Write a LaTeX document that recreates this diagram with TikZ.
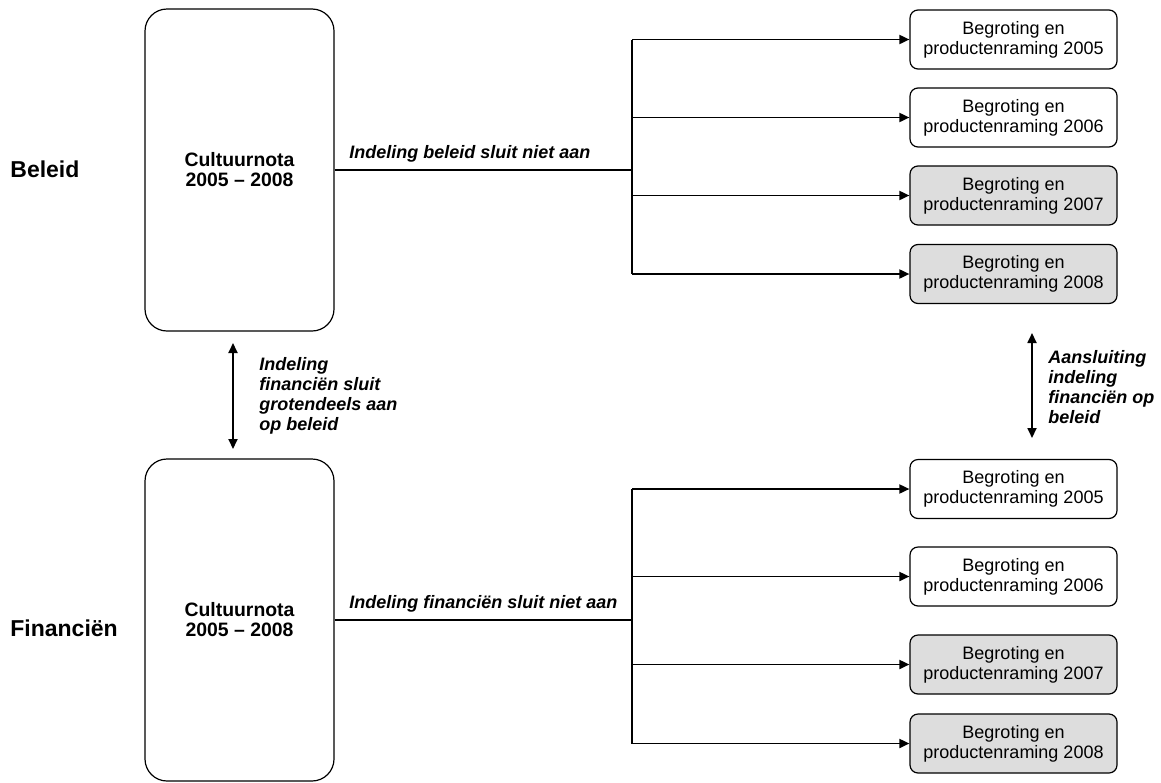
\documentclass[tikz,border=0pt]{standalone}
\usepackage{fontspec}
\setmainfont{Liberation Sans}
\usepackage{tikz}
\usetikzlibrary{arrows.meta,calc}
\definecolor{boxgrey}{HTML}{DDDDDD}
\tikzset{bigbox/.style={draw,line width=0.6pt,rounded corners=11pt,minimum width=94.5pt,minimum height=161pt,align=center,font=\bfseries\fontsize{9.7}{10}\selectfont}}
\tikzset{planbox/.style={draw,line width=0.6pt,rounded corners=4pt,minimum width=103.5pt,minimum height=29.5pt,inner sep=0pt,align=center,font=\fontsize{9}{10}\selectfont}}
\tikzset{greybox/.style={planbox,fill=boxgrey}}
\tikzset{conn/.style={line width=0.9pt}}
\tikzset{arr/.style={conn,-{Triangle[length=5pt,width=4.5pt]}}}
\tikzset{note/.style={inner sep=0pt,align=left,font=\bfseries\itshape\fontsize{9}{10}\selectfont}}
\tikzset{side/.style={inner sep=0pt,anchor=west,font=\bfseries\fontsize{11.5}{12}\selectfont}}

\begin{document}
\begin{tikzpicture}
[x=0.5pt, y=-0.5pt]
\useasboundingbox (0,0) rectangle (1161,782);

\node (beleid) at (10,169)[side]{Beleid};
\node (financien) at (10,628)[side]{Financiën};

\node (cultb) at (239.5,170)[bigbox]{Cultuurnota\\2005 -- 2008};
\node (cultf) at (239.5,620)[bigbox]{Cultuurnota\\2005 -- 2008};

% beleid
\node (b1) at (1013.5,39.5)[planbox]{Begroting en\\productenraming 2005};
\node (b2) at (1013.5,117.5)[planbox]{Begroting en\\productenraming 2006};
\node (b3) at (1013.5,195.5)[greybox]{Begroting en\\productenraming 2007};
\node (b4) at (1013.5,274)[greybox]{Begroting en\\productenraming 2008};

% financien
\node (f1) at (1013.5,489)[planbox]{Begroting en\\productenraming 2005};
\node (f2) at (1013.5,576.5)[planbox]{Begroting en\\productenraming 2006};
\node (f3) at (1013.5,664.5)[greybox]{Begroting en\\productenraming 2007};
\node (f4) at (1013.5,743.5)[greybox]{Begroting en\\productenraming 2008};

\coordinate (jb) at (632,170);
\coordinate (jf) at (632,620);

\draw[conn] (cultb.east) -- (jb);
\draw[conn] (jb |- b1) -- (jb |- b4);
\draw[arr] (jb |- b1) -- (b1.west);
\draw[arr] (jb |- b2) -- (b2.west);
\draw[arr] (jb |- b3) -- (b3.west);
\draw[arr] (jb |- b4) -- (b4.west);
\node (tb) at (349,154)[note,anchor=west]{Indeling beleid sluit niet aan};

\draw[conn] (cultf.east) -- (jf);
\draw[conn] (jf |- f1) -- (jf |- f4);
\draw[arr] (jf |- f1) -- (f1.west);
\draw[arr] (jf |- f2) -- (f2.west);
\draw[arr] (jf |- f3) -- (f3.west);
\draw[arr] (jf |- f4) -- (f4.west);
\node (tf) at (349,604)[note,anchor=west]{Indeling financiën sluit niet aan};

% verticale pijlen
\coordinate (lt) at (233,343);
\coordinate (lb) at (233,449);
\draw[arr,{Triangle[length=5pt,width=4.5pt]}-{Triangle[length=5pt,width=4.5pt]}] (lt) -- (lb);
\node (tl) at (259,396)[note,anchor=west]{Indeling\\financiën sluit\\grotendeels aan\\op beleid};

\coordinate (rt) at (1032,333);
\coordinate (rb) at (1032,438);
\draw[arr,{Triangle[length=5pt,width=4.5pt]}-{Triangle[length=5pt,width=4.5pt]}] (rt) -- (rb);
\node (tr) at (1048,387)[note,anchor=west]{Aansluiting\\indeling\\financiën op\\beleid};
\end{tikzpicture}
\end{document}
